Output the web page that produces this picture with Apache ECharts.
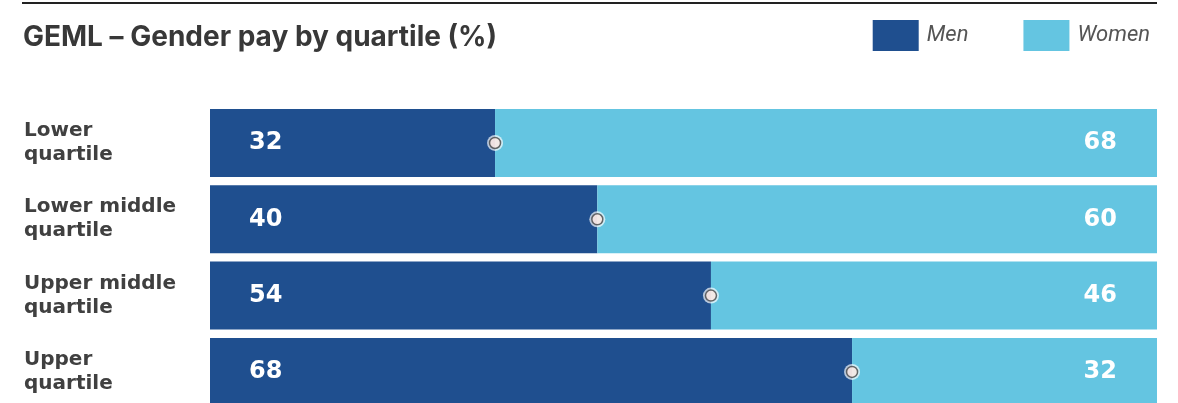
<!DOCTYPE html>
<html>
<head>
<meta charset="utf-8">
<script src="https://cdn.jsdelivr.net/npm/echarts@6/dist/echarts.min.js"></script>
<style>
html,body{margin:0;padding:0;background:#fff;}
#chart{width:1178px;height:403px;}
</style>
</head>
<body>
<div id="chart"></div>
<script>
var categories = ['Lower\nquartile', 'Lower middle\nquartile', 'Upper middle\nquartile', 'Upper\nquartile'];
// printed labels
var menLabels = [32, 40, 54, 68];
var womenLabels = [68, 60, 46, 32];
// bar lengths as drawn in the picture (% of the full bar)
var menBars = [30.1, 40.9, 52.9, 67.8];
var womenBars = [69.9, 59.1, 47.1, 32.2];

var labelFont = {
    color: '#fff',
    fontFamily: 'DejaVu Sans',
    fontWeight: 'bold',
    fontSize: 24
};

var myChart = echarts.init(document.getElementById('chart'));
myChart.setOption({
    animation: false,
    title: {
        text: 'GEML \u2013 Gender pay by quartile (%)',
        left: 18,
        top: 19,
        textStyle: {
            fontFamily: 'Inter',
            fontWeight: 'bold',
            fontSize: 28,
            color: '#383838'
        }
    },
    legend: {
        right: 23,
        top: 15,
        itemWidth: 46,
        itemHeight: 31,
        itemGap: 55,
        icon: 'rect',
        textStyle: {
            fontFamily: 'Roboto',
            fontStyle: 'italic',
            fontSize: 22,
            color: '#555',
            padding: [0, 0, 0, 3]
        },
        data: ['Men', 'Women']
    },
    graphic: [{
        type: 'line',
        shape: {x1: 22, y1: 3, x2: 1157, y2: 3},
        style: {stroke: '#222', lineWidth: 2}
    }],
    grid: {
        left: 210,
        right: 21,
        top: 104.8,
        height: 305.3,
        outerBoundsMode: 'none'
    },
    xAxis: {
        type: 'value',
        min: 0,
        max: 100,
        show: false
    },
    yAxis: {
        type: 'category',
        inverse: true,
        data: categories,
        axisLine: {show: false},
        axisTick: {show: false},
        axisLabel: {
            align: 'left',
            margin: 186,
            fontFamily: 'DejaVu Sans',
            fontWeight: 'bold',
            fontSize: 20,
            lineHeight: 24,
            color: '#404040'
        }
    },
    series: [
        {
            name: 'Men',
            type: 'bar',
            stack: 'total',
            barCategoryGap: '10.9%',
            itemStyle: {color: '#1f4f8f'},
            label: Object.assign({
                show: true,
                position: 'insideLeft',
                distance: 39,
                formatter: function (p) { return menLabels[p.dataIndex]; }
            }, labelFont),
            data: menBars
        },
        {
            name: 'Women',
            type: 'bar',
            stack: 'total',
            itemStyle: {color: '#64c5e1'},
            label: Object.assign({
                show: true,
                position: 'insideRight',
                distance: 40,
                formatter: function (p) { return womenLabels[p.dataIndex]; }
            }, labelFont),
            data: womenBars
        },
        {
            type: 'scatter',
            symbolSize: 16,
            itemStyle: {color: 'rgba(255,255,255,0.85)'},
            z: 5,
            silent: true,
            data: menBars.map(function (v, i) { return [v, i]; })
        },
        {
            type: 'scatter',
            symbolSize: 11,
            itemStyle: {color: '#fbe7e2', borderColor: '#444', borderWidth: 1.5},
            z: 6,
            silent: true,
            data: menBars.map(function (v, i) { return [v, i]; })
        }
    ]
});
</script>
</body>
</html>
